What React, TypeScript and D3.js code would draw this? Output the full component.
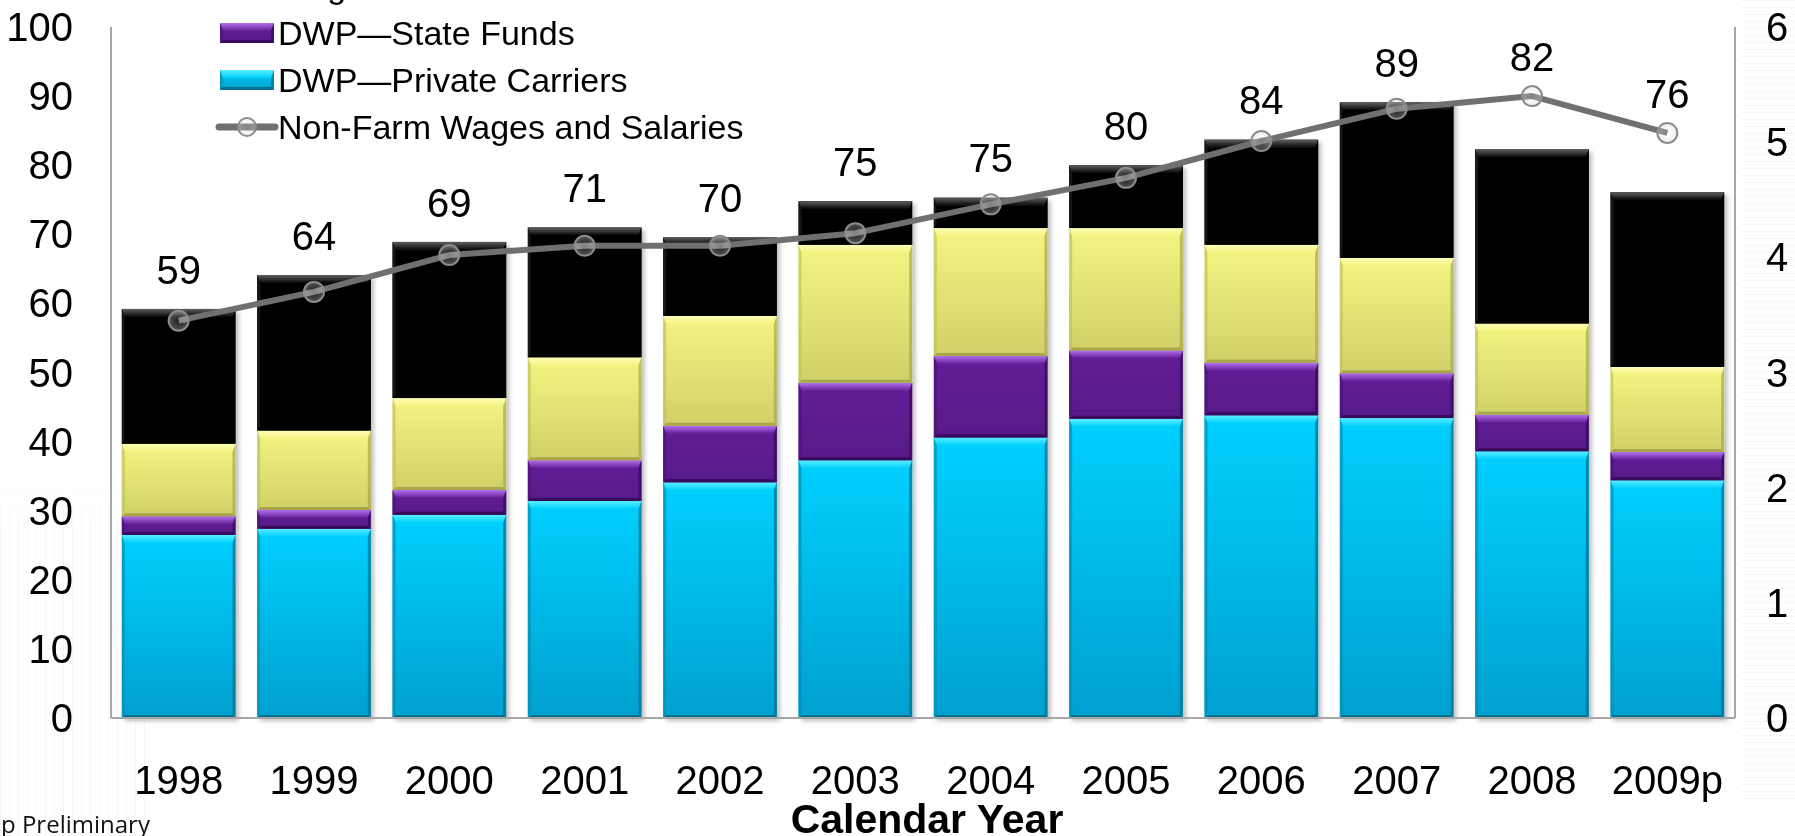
import * as d3 from 'd3';

// Calendar years on the x axis
const years = ['1998', '1999', '2000', '2001', '2002', '2003', '2004', '2005', '2006', '2007', '2008', '2009p'];

// Stacked segments, $ billions (bottom to top)
const privateCarriers = [26.5, 27.4, 29.4, 31.4, 34.1, 37.3, 40.6, 43.3, 43.8, 43.4, 38.6, 34.4];
const stateFunds = [2.7, 2.7, 3.6, 5.9, 8.2, 11.2, 11.8, 9.9, 7.6, 6.5, 5.3, 4.1];
const largeDeductible = [10.5, 11.5, 13.3, 14.9, 15.9, 20.0, 18.5, 17.7, 17.1, 16.7, 13.2, 12.3];
const selfInsured = [19.5, 22.5, 22.6, 18.8, 11.4, 6.3, 4.4, 9.1, 15.2, 22.5, 25.2, 25.3];

// Right axis line, $ trillions
const wages = [3.45, 3.7, 4.02, 4.1, 4.1, 4.21, 4.46, 4.69, 5.01, 5.29, 5.4, 5.08];

const leftTicks = [0, 10, 20, 30, 40, 50, 60, 70, 80, 90, 100];
const rightTicks = [0, 1, 2, 3, 4, 5, 6];

const W = 1795;
const H = 836;
const plot = { left: 111, right: 1735, top: 27, bottom: 718 };
const FONT = 'Liberation Sans, Arial, sans-serif';

type Shade = { top: string; bottom: string; light: string; dark: string; side: string };

const shades: Record<string, Shade> = {
  private: { top: '#00d0ff', bottom: '#04a0cf', light: '#5aefff', dark: '#05708f', side: '#0590b8' },
  state: { top: '#641f96', bottom: '#57198a', light: '#b470f0', dark: '#36095a', side: '#4a1478' },
  large: { top: '#f5f582', bottom: '#d0d068', light: '#fcfcb8', dark: '#a6a64c', side: '#c2c25e' },
  self: { top: '#060606', bottom: '#030303', light: '#606060', dark: '#000000', side: '#1a1a1a' },
};

const keys = ['private', 'state', 'large', 'self'];

const rows = years.map((year, i) => ({
  year,
  private: privateCarriers[i],
  state: stateFunds[i],
  large: largeDeductible[i],
  self: selfInsured[i],
}));

function BevelRect({ x, y, w, h, k }: { x: number; y: number; w: number; h: number; k: string }) {
  const s = shades[k];
  const b = Math.min(8, h / 2);
  const sb = Math.min(3, h / 2);
  return (
    <g>
      <rect x={x} y={y} width={w} height={h} fill={`url(#grad-${k})`} />
      <polygon
        points={`${x},${y} ${x + w},${y} ${x + w - sb},${y + b} ${x + sb},${y + b}`}
        fill={`url(#top-${k})`}
      />
      <polygon
        points={`${x},${y + h} ${x + sb},${y + h - sb} ${x + w - sb},${y + h - sb} ${x + w},${y + h}`}
        fill={s.dark}
      />
      <polygon points={`${x},${y} ${x + sb},${y + b} ${x + sb},${y + h - sb} ${x},${y + h}`} fill={s.side} opacity={0.7} />
      <polygon
        points={`${x + w},${y} ${x + w - sb},${y + b} ${x + w - sb},${y + h - sb} ${x + w},${y + h}`}
        fill={s.dark}
        opacity={0.7}
      />
    </g>
  );
}

export default function App() {
  const x = d3.scaleBand<string>().domain(years).range([plot.left, plot.right]).paddingInner(0.16).paddingOuter(0.08);
  const yL = d3.scaleLinear().domain([0, 100]).range([plot.bottom, plot.top]);
  const yR = d3.scaleLinear().domain([0, 6]).range([plot.bottom, plot.top]);

  const series = d3.stack<any>().keys(keys)(rows);
  const totals = rows.map((r) => r.private + r.state + r.large + r.self);
  const cx = (i: number) => (x(years[i]) as number) + x.bandwidth() / 2;

  const line = d3
    .line<number>()
    .x((_, i) => cx(i))
    .y((d) => yR(d));

  const legend = [
    { label: 'Large Deductible', k: 'large' },
    { label: 'DWP\u2014State Funds', k: 'state' },
    { label: 'DWP\u2014Private Carriers', k: 'private' },
  ];
  const legendY = (i: number) => -14 + i * 47;

  return (
    <svg width={W} height={H} style={{ display: 'block' }} fontFamily={FONT}>
      <style>{`body{margin:0}`}</style>
      <defs>
        {keys.map((k) => (
          <g key={k}>
            <linearGradient id={`grad-${k}`} x1="0" y1="0" x2="0" y2="1">
              <stop offset="0" stopColor={shades[k].top} />
              <stop offset="1" stopColor={shades[k].bottom} />
            </linearGradient>
            <linearGradient id={`top-${k}`} x1="0" y1="0" x2="0" y2="1">
              <stop offset="0" stopColor={shades[k].light} />
              <stop offset="1" stopColor={shades[k].top} />
            </linearGradient>
          </g>
        ))}
        <pattern id="leftbg" width="9" height="9" patternUnits="userSpaceOnUse">
          <line x1="0" y1="0" x2="0" y2="9" stroke="#c9a7b8" strokeWidth="1" opacity="0.25" />
          <line x1="0" y1="0" x2="9" y2="0" stroke="#cccccc" strokeWidth="1" opacity="0.18" />
        </pattern>
        <pattern id="rightbg" width="10" height="7" patternUnits="userSpaceOnUse">
          <line x1="0" y1="0" x2="10" y2="0" stroke="#d8d8d8" strokeWidth="1" opacity="0.45" />
        </pattern>
        <linearGradient id="leftfade" x1="0" y1="0" x2="0" y2="1">
          <stop offset="0" stopColor="white" stopOpacity="1" />
          <stop offset="1" stopColor="white" stopOpacity="0" />
        </linearGradient>
        <filter id="shadow" x="-10%" y="-10%" width="130%" height="130%">
          <feDropShadow dx="3" dy="3" stdDeviation="2" floodColor="#000" floodOpacity="0.25" />
        </filter>
        <radialGradient id="marker" cx="0.5" cy="0.5" r="0.5">
          <stop offset="0" stopColor="#ffffff" stopOpacity="0.1" />
          <stop offset="1" stopColor="#cccccc" stopOpacity="0.4" />
        </radialGradient>
      </defs>

      {/* faint slide background */}
      <rect x={0} y={460} width={150} height={376} fill="url(#leftbg)" />
      <rect x={0} y={460} width={150} height={90} fill="url(#leftfade)" />
      <rect x={1742} y={0} width={53} height={800} fill="url(#rightbg)" />

      {/* bars */}
      <g filter="url(#shadow)">
        {series.map((s) =>
          s.map((d, i) => {
            const bx = x(years[i]) as number;
            const y0 = yL(d[1]);
            const y1 = yL(d[0]);
            return <BevelRect key={`${s.key}-${i}`} x={bx} y={y0} w={x.bandwidth()} h={y1 - y0} k={s.key} />;
          }),
        )}
      </g>

      {/* axes */}
      <line x1={plot.left} x2={plot.left} y1={plot.top} y2={plot.bottom} stroke="#a6a6a6" strokeWidth={2} />
      <line x1={plot.right} x2={plot.right} y1={plot.top} y2={plot.bottom} stroke="#a6a6a6" strokeWidth={2} />
      <line x1={plot.left} x2={plot.right} y1={plot.bottom} y2={plot.bottom} stroke="#a6a6a6" strokeWidth={2} />

      {leftTicks.map((t) => (
        <text key={t} x={73} y={yL(t)} dy="0.35em" textAnchor="end" fontSize={40} fill="#000">
          {t}
        </text>
      ))}
      {rightTicks.map((t) => (
        <text key={t} x={1766} y={yR(t)} dy="0.35em" textAnchor="start" fontSize={40} fill="#000">
          {t}
        </text>
      ))}
      {years.map((yr) => (
        <text key={yr} x={(x(yr) as number) + x.bandwidth() / 2} y={780} dy="0.35em" textAnchor="middle" fontSize={40}>
          {yr}
        </text>
      ))}
      <text x={927} y={833} textAnchor="middle" fontSize={41} fontWeight="bold">
        Calendar Year
      </text>
      <text x={1} y={833} fontSize={24} fontFamily="Open Sans, DejaVu Sans, sans-serif" fill="#111">
        p Preliminary
      </text>

      {/* wages line */}
      <path d={line(wages) ?? ''} fill="none" stroke="#707070" strokeWidth={6} strokeLinejoin="round" />
      {wages.map((v, i) => (
        <circle key={i} cx={cx(i)} cy={yR(v)} r={10} fill="url(#marker)" stroke="#8c8c8c" strokeWidth={2} />
      ))}

      {/* total labels */}
      {totals.map((t, i) => {
        const top = Math.max(t, (wages[i] * 100) / 6);
        return (
          <text key={i} x={cx(i)} y={yL(top + 5.7)} dy="0.35em" textAnchor="middle" fontSize={40}>
            {Math.round(t)}
          </text>
        );
      })}

      {/* legend */}
      {legend.map((l, i) => (
        <g key={l.k}>
          <BevelRect x={220} y={legendY(i) - 10} w={54} h={20} k={l.k} />
          <text x={278} y={legendY(i)} dy="0.35em" fontSize={34}>
            {l.label}
          </text>
        </g>
      ))}
      <g>
        <line x1={219} x2={275} y1={legendY(3)} y2={legendY(3)} stroke="#707070" strokeWidth={7} strokeLinecap="round" />
        <circle cx={247} cy={legendY(3)} r={9} fill="url(#marker)" stroke="#8c8c8c" strokeWidth={2} />
        <text x={278} y={legendY(3)} dy="0.35em" fontSize={34}>
          Non-Farm Wages and Salaries
        </text>
      </g>
    </svg>
  );
}
